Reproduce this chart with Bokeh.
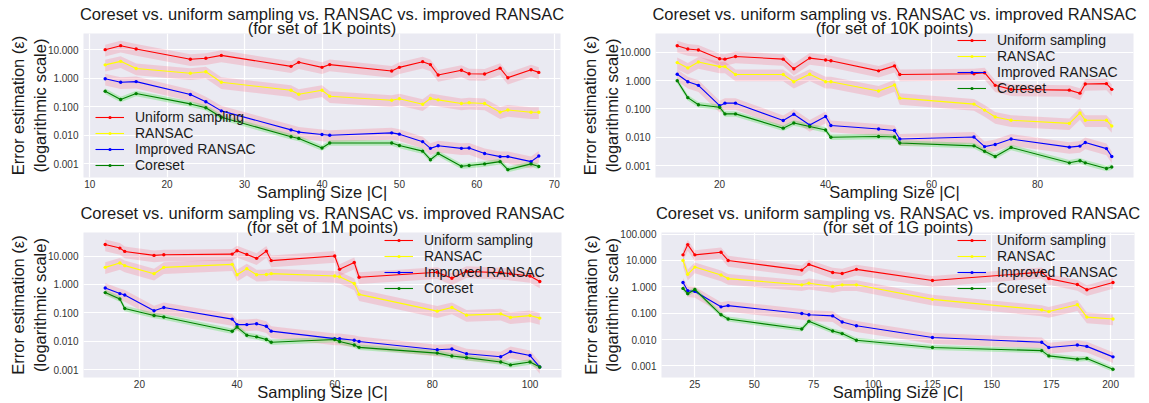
from bokeh.plotting import figure
from bokeh.models import (Range1d, FixedTicker, PrintfTickFormatter, Title,
                          Legend, LegendItem)
from bokeh.layouts import column, row
from bokeh.embed import file_html
from bokeh.resources import INLINE

# ---------------- data ----------------
series_names = ["Uniform sampling", "RANSAC", "Improved RANSAC", "Coreset"]
point_sets = ["1K", "10K", "1M", "1G"]

size_1k = [12, 14, 16, 23, 25, 27, 36, 37, 40, 41, 49, 50, 53, 54, 55, 58, 59, 61, 63, 64, 67, 68]
uniform_1k = [10.0, 13.8, 10.5, 4.6, 5.0, 6.3, 2.6, 3.6, 2.4, 3.0, 1.78, 2.4, 3.8, 3.0, 1.3, 1.9, 1.43, 1.4, 2.25, 1.04, 1.97, 1.6]
ransac_1k = [2.94, 3.9, 2.2, 1.5, 1.68, 0.72, 0.38, 0.275, 0.38, 0.235, 0.17, 0.19, 0.123, 0.195, 0.175, 0.13, 0.138, 0.13, 0.065, 0.077, 0.064, 0.064]
improved_1k = [0.96, 0.72, 0.76, 0.27, 0.15, 0.072, 0.0155, 0.013, 0.0107, 0.0101, 0.0122, 0.011, 0.006, 0.0035, 0.0043, 0.0035, 0.0036, 0.0023, 0.0018, 0.0018, 0.0012, 0.0019]
coreset_1k = [0.35, 0.18, 0.29, 0.126, 0.092, 0.043, 0.0089, 0.0078, 0.0036, 0.0054, 0.0054, 0.0044, 0.0028, 0.0014, 0.0023, 0.00083, 0.00088, 0.001, 0.0012, 0.00063, 0.001, 0.00081]

size_10k = [12, 14, 16, 20, 21, 23, 32, 34, 37, 40, 41, 50, 53, 54, 68, 70, 72, 75, 86, 88, 89, 93, 94]
uniform_10k = [17, 13, 12, 5.9, 5.7, 7.1, 5.7, 2.6, 6.2, 5.3, 5.0, 2.2, 3.3, 1.64, 1.75, 1.9, 0.68, 0.49, 0.46, 0.36, 0.76, 0.78, 0.49]
ransac_10k = [4.3, 2.8, 4.5, 3.1, 3.1, 1.64, 1.64, 0.91, 1.68, 0.91, 0.91, 0.43, 0.70, 0.24, 0.148, 0.091, 0.052, 0.04, 0.031, 0.072, 0.04, 0.04, 0.025]
improved_10k = [1.68, 0.91, 0.68, 0.13, 0.16, 0.16, 0.039, 0.065, 0.027, 0.054, 0.026, 0.0197, 0.0174, 0.0087, 0.0102, 0.0047, 0.0056, 0.0087, 0.0045, 0.0049, 0.0066, 0.004, 0.0021]
coreset_10k = [0.99, 0.25, 0.141, 0.115, 0.067, 0.067, 0.021, 0.032, 0.024, 0.018, 0.010, 0.0107, 0.0102, 0.0063, 0.005, 0.0032, 0.0021, 0.0044, 0.00126, 0.0015, 0.00126, 0.0008, 0.0009]

size_1m = [13, 16, 17, 23, 25, 39, 40, 42, 44, 46, 47, 60, 61, 64, 65, 81, 84, 87, 94, 96, 100, 102]
uniform_1m = [25.5, 19, 14.5, 10.5, 11.1, 11.7, 15.3, 11.4, 8.3, 14.9, 6.9, 10, 3.4, 5.9, 1.8, 2.7, 1.65, 2.9, 2.6, 2.4, 2.0, 1.28]
ransac_1m = [4.0, 5.7, 4.6, 2.4, 4.0, 5.1, 2.2, 3.6, 2.2, 2.25, 2.4, 2.0, 1.86, 1.09, 0.45, 0.116, 0.155, 0.084, 0.093, 0.07, 0.081, 0.066]
improved_1m = [0.75, 0.48, 0.43, 0.119, 0.155, 0.061, 0.039, 0.039, 0.042, 0.034, 0.023, 0.0126, 0.0126, 0.011, 0.010, 0.0051, 0.0054, 0.0037, 0.0029, 0.0044, 0.0032, 0.00126]
coreset_1m = [0.52, 0.31, 0.144, 0.082, 0.072, 0.0228, 0.032, 0.0166, 0.0145, 0.0117, 0.0094, 0.0117, 0.010, 0.0075, 0.0062, 0.0039, 0.0031, 0.0027, 0.0019, 0.0015, 0.0019, 0.00126]

size_1g = [20, 22, 25, 36, 39, 70, 73, 83, 87, 93, 125, 171, 174, 186, 190, 201]
uniform_1g = [16.3, 40, 16.3, 20.5, 10, 4.3, 7.1, 3.5, 3.2, 4.6, 1.73, 3.6, 2.05, 1.22, 0.77, 1.45]
ransac_1g = [10, 3.0, 5.6, 2.8, 2.05, 1.19, 1.37, 1.03, 1.19, 1.19, 0.335, 0.133, 0.115, 0.21, 0.071, 0.06]
improved_1g = [1.45, 0.71, 0.67, 0.174, 0.194, 0.097, 0.087, 0.079, 0.046, 0.0335, 0.0119, 0.0079, 0.005, 0.0062, 0.0055, 0.0022]
coreset_1g = [0.87, 0.55, 0.79, 0.087, 0.06, 0.025, 0.049, 0.021, 0.0168, 0.0094, 0.005, 0.0038, 0.0024, 0.0018, 0.0019, 0.00075]

xticks_1k = [10, 20, 30, 40, 50, 60, 70]
xticks_10k = [20, 40, 60, 80]
xticks_1m = [20, 40, 60, 80, 100]
xticks_1g = [25, 50, 75, 100, 125, 150, 175, 200]
yticks_small = [0.001, 0.01, 0.1, 1, 10]
yticks_large = [0.001, 0.01, 0.1, 1, 10, 100]

# ---------------- style ----------------
FONT = "Liberation Sans"
TEXT = "#1a1a1a"
BG = "#EAEAF2"
LINE_COLORS = ["#ff0000", "#ffff00", "#0000ff", "#008000"]
BAND_COLORS = ["#ff3050", "#ff3050", "#ff3050", "#22dd22"]
BAND_ALPHA = [0.17, 0.17, 0.17, 0.26]
BAND_LO = [0.58, 0.58, 0.58, 0.8]
BAND_HI = [1.5, 1.5, 1.5, 1.25]


def make_panel(label, sizes, ys, xticks, yticks, xr, yr, fig_w, fig_h,
               left, frame_w, top, bottom, legend_xy):
    right = fig_w - left - frame_w
    p = figure(width=fig_w, height=fig_h, y_axis_type="log",
               x_range=Range1d(*xr), y_range=Range1d(*yr),
               output_backend="svg", toolbar_location=None, title=None,
               min_border_left=left, min_border_right=right,
               min_border_top=top, min_border_bottom=bottom)
    p.background_fill_color = BG
    p.border_fill_color = "white"
    p.outline_line_color = None

    for ax in (p.xaxis[0], p.yaxis[0]):
        ax.axis_line_color = None
        ax.major_tick_line_color = None
        ax.minor_tick_line_color = None
        ax.major_tick_out = 0
        ax.major_tick_in = 0
        ax.major_label_text_font = FONT
        ax.major_label_text_font_size = "10px"
        ax.major_label_text_color = "#333333"
        ax.axis_label_text_font = FONT
        ax.axis_label_text_font_style = "normal"
        ax.axis_label_text_color = TEXT
    p.xaxis.ticker = FixedTicker(ticks=xticks)
    p.yaxis.ticker = FixedTicker(ticks=yticks)
    p.yaxis.formatter = PrintfTickFormatter(format="%.3f")
    p.xaxis.major_label_standoff = 2
    p.yaxis.major_label_standoff = 5
    p.xaxis.axis_label = "Sampling Size |C|"
    p.xaxis.axis_label_text_font_size = "16.5px"
    p.xaxis.axis_label_standoff = -8
    p.yaxis.axis_label = "Error estimation (\u03b5)\n(logarithmic scale)"
    p.yaxis.axis_label_text_font_size = "16.5px"
    p.yaxis.axis_label_standoff = -4
    p.xgrid.ticker = FixedTicker(ticks=xticks)
    p.ygrid.ticker = FixedTicker(ticks=yticks)
    for g in (p.xgrid[0], p.ygrid[0]):
        g.grid_line_color = "white"
        g.grid_line_width = 1.2

    for y, bc, ba, lo, hi in zip(ys, BAND_COLORS, BAND_ALPHA, BAND_LO, BAND_HI):
        p.varea(x=sizes, y1=[v * lo for v in y], y2=[v * hi for v in y],
                fill_color=bc, fill_alpha=ba)
    items = []
    for name, y, lc in zip(series_names, ys, LINE_COLORS):
        lr = p.line(sizes, y, line_color=lc, line_width=1.1)
        sr = p.scatter(sizes, y, size=3.4, fill_color=lc, line_color=None, marker="circle")
        items.append(LegendItem(label=name, renderers=[lr, sr]))

    leg = Legend(items=items, location=legend_xy, background_fill_alpha=0,
                 border_line_alpha=0, padding=0, margin=0, spacing=0,
                 glyph_width=29, glyph_height=8, label_height=13,
                 label_standoff=11, label_text_font=FONT,
                 label_text_font_size="14px", label_text_color=TEXT)
    p.add_layout(leg, "center")

    for text in ("(for set of %s points)" % label,
                 "Coreset vs. uniform sampling vs. RANSAC vs. improved RANSAC"):
        p.add_layout(Title(text=text, align="center", standoff=-6,
                           text_font=FONT, text_font_size="16.5px",
                           text_font_style="normal", text_color=TEXT), "above")
    return p


p1 = make_panel(point_sets[0], size_1k, [uniform_1k, ransac_1k, improved_1k, coreset_1k],
                xticks_1k, yticks_small, (9.2, 70.8), (0.000334, 36.8),
                575, 203, 83, 477, 33, 24, (12, 4))
p2 = make_panel(point_sets[1], size_10k, [uniform_10k, ransac_10k, improved_10k, coreset_10k],
                xticks_10k, yticks_small, (7.9, 98.1), (0.000383, 45.7),
                574, 203, 80, 478, 33, 24, (302, 81))
p3 = make_panel(point_sets[2], size_1m, [uniform_1m, ransac_1m, improved_1m, coreset_1m],
                xticks_1m, yticks_small, (8.55, 106.45), (0.000542, 67.0),
                575, 200, 83, 478, 29, 25, (301, 81))
p4 = make_panel(point_sets[3], size_1g, [uniform_1g, ransac_1g, improved_1g, coreset_1g],
                xticks_1g, yticks_large, (10.95, 210.05), (0.000363, 115.0),
                574, 200, 86, 473, 29, 25, (296, 81))

layout = column(row(p1, p2), row(p3, p4))
open("out.html", "w").write(file_html(layout, INLINE))
